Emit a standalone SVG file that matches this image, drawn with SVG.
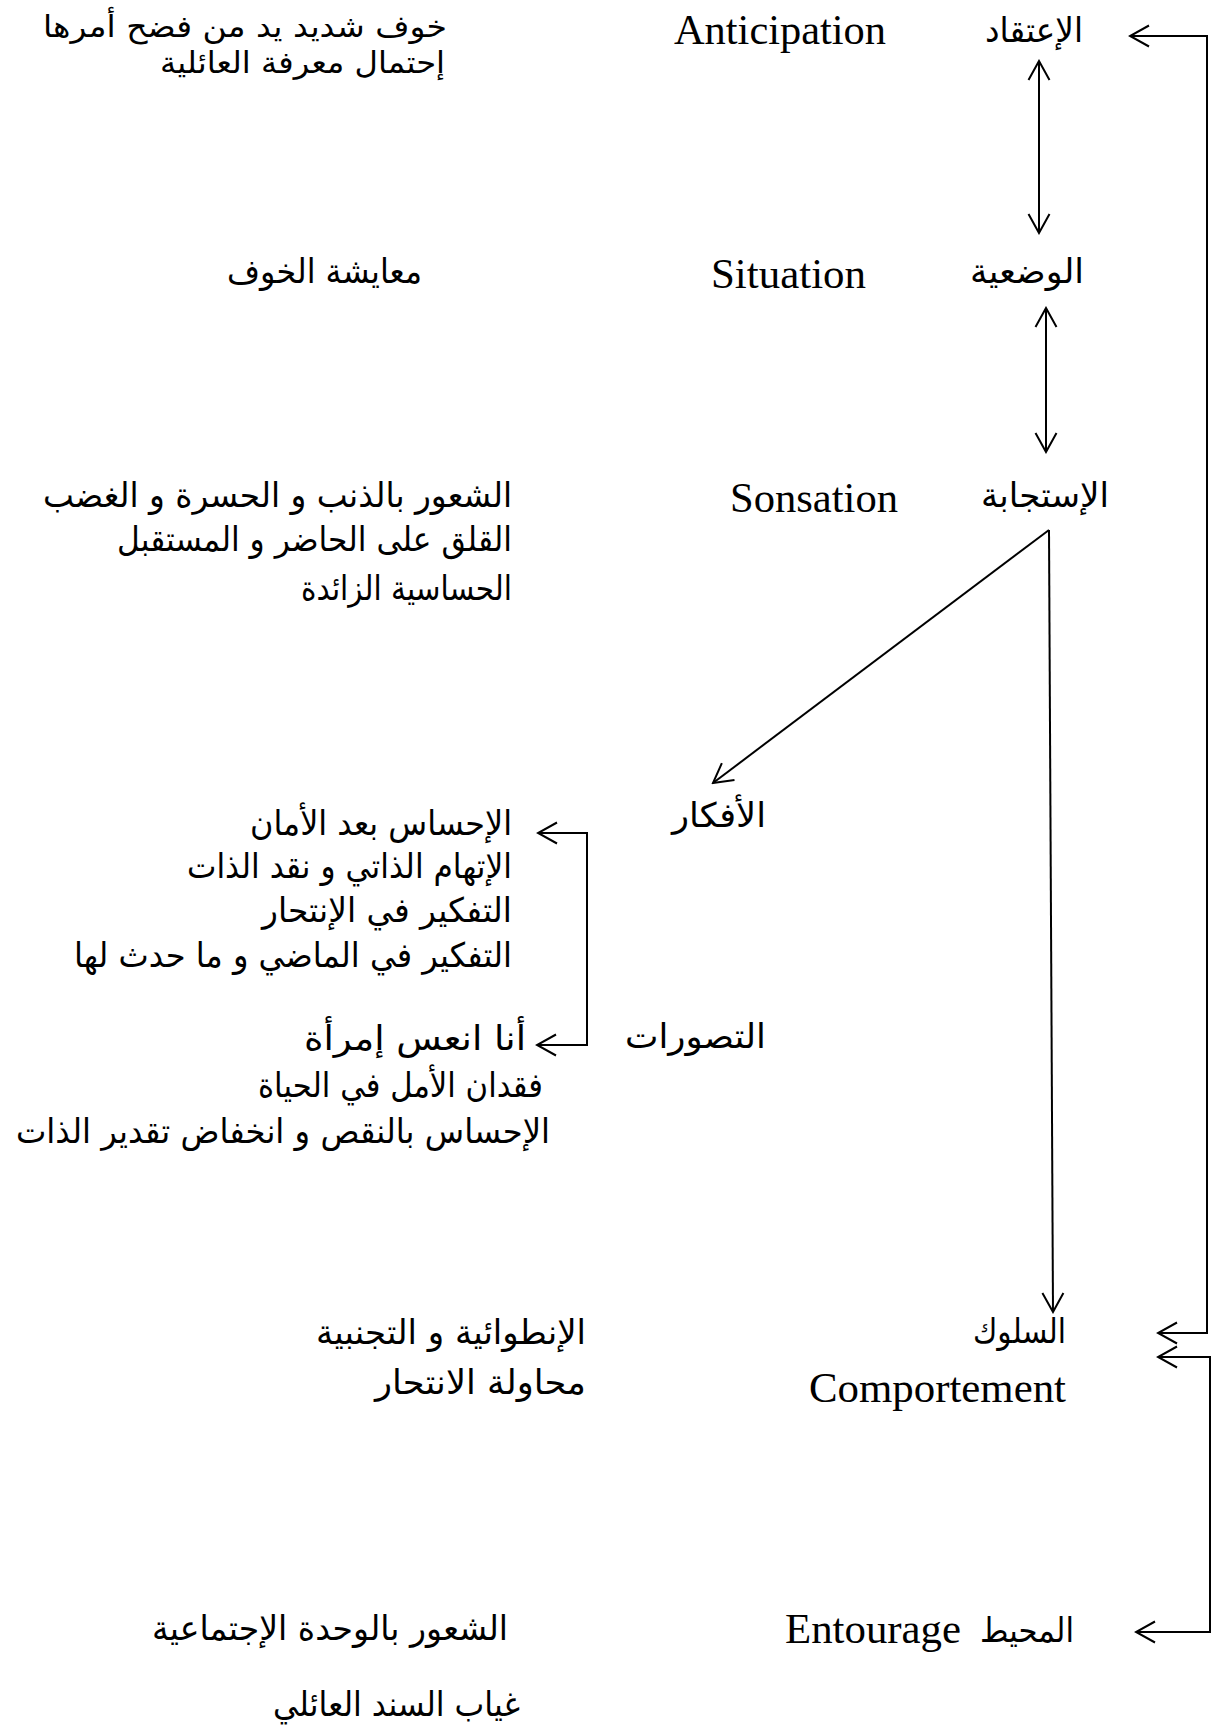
<svg xmlns="http://www.w3.org/2000/svg" width="1221" height="1728" viewBox="0 0 1221 1728">
<style>
.ar{font-family:"DejaVu Sans","Liberation Sans",sans-serif;font-size:34px;fill:#000}
.sm{font-size:30px}
.lab{font-family:"DejaVu Sans","Liberation Sans",sans-serif;font-size:34px;fill:#000}
.en{font-family:"Liberation Serif","Times New Roman",serif;font-size:42px;fill:#000}
.ln{fill:none;stroke:#000;stroke-width:2}
</style>
<defs>
<marker id="ah" viewBox="-22 -13 24 26" refX="0" refY="0" markerWidth="24" markerHeight="26" markerUnits="userSpaceOnUse" orient="auto-start-reverse">
<path d="M-19,-10.5 L0,0 L-19,10.5" fill="none" stroke="#000" stroke-width="2"/>
</marker>
</defs>
<rect width="1221" height="1728" fill="#fff"/>
<g id="connectors">
<line class="ln" x1="1039" y1="61" x2="1039" y2="233" marker-start="url(#ah)" marker-end="url(#ah)"/>
<line class="ln" x1="1046" y1="308" x2="1046" y2="452" marker-start="url(#ah)" marker-end="url(#ah)"/>
<line class="ln" x1="1049" y1="530" x2="713" y2="783" marker-end="url(#ah)"/>
<line class="ln" x1="1049" y1="530" x2="1053" y2="1312" marker-end="url(#ah)"/>
<path class="ln" d="M538,833 H587 V1045 H537" marker-start="url(#ah)" marker-end="url(#ah)"/>
<path class="ln" d="M1158,1333 H1207 V36 H1130" marker-start="url(#ah)" marker-end="url(#ah)"/>
<path class="ln" d="M1158,1357 H1210 V1632 H1136" marker-start="url(#ah)" marker-end="url(#ah)"/>
</g>
<g id="node-anticipation">
<text class="lab" x="985" y="42" textLength="98" lengthAdjust="spacingAndGlyphs">الإعتقاد</text>
<text class="en" x="674" y="44" textLength="212" lengthAdjust="spacingAndGlyphs">Anticipation</text>
</g>
<g id="desc-anticipation">
<text class="ar sm" x="43" y="37" textLength="404" lengthAdjust="spacingAndGlyphs">خوف شديد يد من فضح أمرها</text>
<text class="ar sm" x="160" y="73" textLength="285" lengthAdjust="spacingAndGlyphs">إحتمال معرفة العائلية</text>
</g>
<g id="node-situation">
<text class="lab" x="970" y="283" textLength="114" lengthAdjust="spacingAndGlyphs">الوضعية</text>
<text class="en" x="711" y="288" textLength="155" lengthAdjust="spacingAndGlyphs">Situation</text>
</g>
<g id="desc-situation">
<text class="ar" x="227" y="283" textLength="195" lengthAdjust="spacingAndGlyphs">معايشة الخوف</text>
</g>
<g id="node-sensation">
<text class="lab" x="981" y="507" textLength="128" lengthAdjust="spacingAndGlyphs">الإستجابة</text>
<text class="en" x="730" y="512" textLength="168" lengthAdjust="spacingAndGlyphs">Sonsation</text>
</g>
<g id="desc-sensation">
<text class="ar" x="43" y="507" textLength="469" lengthAdjust="spacingAndGlyphs">الشعور بالذنب و الحسرة و الغضب</text>
<text class="ar" x="117" y="551" textLength="395" lengthAdjust="spacingAndGlyphs">القلق على الحاضر و المستقبل</text>
<text class="ar" x="301" y="600" textLength="211" lengthAdjust="spacingAndGlyphs">الحساسية الزائدة</text>
</g>
<g id="node-thoughts">
<text class="lab" x="672" y="827" textLength="94" lengthAdjust="spacingAndGlyphs">الأفكار</text>
</g>
<g id="desc-thoughts">
<text class="ar" x="250" y="835" textLength="262" lengthAdjust="spacingAndGlyphs">الإحساس بعد الأمان</text>
<text class="ar" x="187" y="878" textLength="325" lengthAdjust="spacingAndGlyphs">الإتهام الذاتي و نقد الذات</text>
<text class="ar" x="262" y="922" textLength="250" lengthAdjust="spacingAndGlyphs">التفكير في الإنتحار</text>
<text class="ar" x="74" y="967" textLength="438" lengthAdjust="spacingAndGlyphs">التفكير في الماضي و ما حدث لها</text>
</g>
<g id="node-images">
<text class="lab" x="625" y="1048" textLength="141" lengthAdjust="spacingAndGlyphs">التصورات</text>
</g>
<g id="desc-images">
<text class="ar" x="304" y="1050" textLength="222" lengthAdjust="spacingAndGlyphs">أنا انعس  إمرأة</text>
<text class="ar" x="258" y="1097" textLength="285" lengthAdjust="spacingAndGlyphs">فقدان الأمل في الحياة</text>
<text class="ar" x="16" y="1143" textLength="534" lengthAdjust="spacingAndGlyphs">الإحساس بالنقص و انخفاض تقدير الذات</text>
</g>
<g id="node-behavior">
<text class="lab" x="973" y="1343" textLength="93" lengthAdjust="spacingAndGlyphs">السلوك</text>
<text class="en" x="809" y="1402" textLength="257" lengthAdjust="spacingAndGlyphs">Comportement</text>
</g>
<g id="desc-behavior">
<text class="ar" x="316" y="1344" textLength="270" lengthAdjust="spacingAndGlyphs">الإنطوائية و التجنبية</text>
<text class="ar" x="375" y="1394" textLength="211" lengthAdjust="spacingAndGlyphs">محاولة الانتحار</text>
</g>
<g id="node-entourage">
<text class="lab" x="980" y="1642" textLength="94" lengthAdjust="spacingAndGlyphs">المحيط</text>
<text class="en" x="785" y="1643" textLength="176" lengthAdjust="spacingAndGlyphs">Entourage</text>
</g>
<g id="desc-entourage">
<text class="ar" x="152" y="1640" textLength="356" lengthAdjust="spacingAndGlyphs">الشعور بالوحدة الإجتماعية</text>
<text class="ar" x="273" y="1716" textLength="247" lengthAdjust="spacingAndGlyphs">غياب السند العائلي</text>
</g>
</svg>
